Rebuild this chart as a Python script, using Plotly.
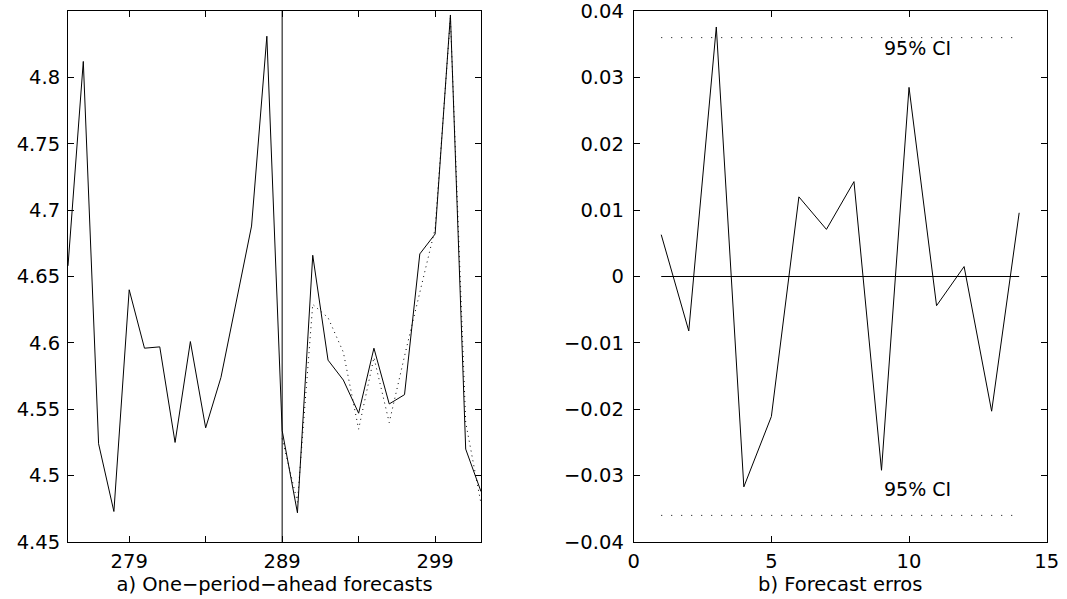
import plotly.graph_objects as go

# ---- Panel a data ----
periods = list(range(275, 303))
actual = [4.658, 4.812, 4.524, 4.473, 4.640, 4.596, 4.597, 4.525, 4.601, 4.536,
          4.574, 4.631, 4.688, 4.831, 4.534, 4.472, 4.666, 4.587, 4.572, 4.547,
          4.596, 4.554, 4.561, 4.667, 4.682, 4.847, 4.520, 4.488]
fc_periods = list(range(289, 303))
forecast = [4.528, 4.480, 4.629, 4.619, 4.593, 4.535, 4.589, 4.540, 4.590, 4.638,
            4.686, 4.845, 4.540, 4.479]
split_period = 289
a_yrange = [4.45, 4.85]
a_yticks = [4.45, 4.5, 4.55, 4.6, 4.65, 4.7, 4.75, 4.8]
a_yticktext = ["4.45", "4.5", "4.55", "4.6", "4.65", "4.7", "4.75", "4.8"]
a_xticks = [279, 284, 289, 294, 299]
a_xticktext = ["279", "", "289", "", "299"]

# ---- Panel b data ----
steps = list(range(1, 15))
errors = [0.0063, -0.0082, 0.0376, -0.0317, -0.0211, 0.0120, 0.0071, 0.0143,
          -0.0292, 0.0285, -0.0044, 0.0015, -0.0203, 0.0096]
ci_x = [1, 14]
ci_upper = [0.036, 0.036]
ci_lower = [-0.036, -0.036]
zero_line = [0, 0]
b_yticks = [-0.04, -0.03, -0.02, -0.01, 0, 0.01, 0.02, 0.03, 0.04]
b_yticktext = ["\u22120.04", "\u22120.03", "\u22120.02", "\u22120.01", "0",
               "0.01", "0.02", "0.03", "0.04"]
b_xticks = [0, 5, 10, 15]
ci_label = "95% CI"
ci_label_x = 10.3
ci_label_y = [0.0345, -0.0320]

FONT = "DejaVu Sans, Liberation Sans, Arial, sans-serif"
FS_TICK = 19.5
FS_TITLE = 19.5
FS_ANN = 19
BLACK = "black"

fig = go.Figure()

line = dict(color=BLACK, width=1)
dot = dict(color=BLACK, width=1, dash="1px,4px")
ci_dot = dict(color=BLACK, width=1, dash="1px,9px")

fig.add_trace(go.Scatter(x=periods, y=actual, mode="lines", line=line,
                         xaxis="x", yaxis="y", showlegend=False))
fig.add_trace(go.Scatter(x=fc_periods, y=forecast, mode="lines", line=dot,
                         xaxis="x", yaxis="y", showlegend=False))
fig.add_trace(go.Scatter(x=[split_period, split_period], y=a_yrange, mode="lines",
                         line=line, xaxis="x", yaxis="y", showlegend=False))

fig.add_trace(go.Scatter(x=steps, y=errors, mode="lines", line=line,
                         xaxis="x2", yaxis="y2", showlegend=False))
fig.add_trace(go.Scatter(x=ci_x, y=zero_line, mode="lines", line=line,
                         xaxis="x2", yaxis="y2", showlegend=False))
fig.add_trace(go.Scatter(x=ci_x, y=ci_upper, mode="lines", line=ci_dot,
                         xaxis="x2", yaxis="y2", showlegend=False))
fig.add_trace(go.Scatter(x=ci_x, y=ci_lower, mode="lines", line=ci_dot,
                         xaxis="x2", yaxis="y2", showlegend=False))

axis_common = dict(showline=True, linecolor=BLACK, linewidth=1, mirror="ticks",
                   ticks="inside", ticklen=6, tickcolor=BLACK, tickwidth=1,
                   showgrid=False, zeroline=False, automargin=False,
                   ticklabeloverflow="allow",
                   tickfont=dict(family=FONT, size=FS_TICK, color=BLACK))
title_font = dict(family=FONT, size=FS_TITLE, color=BLACK)

fig.update_layout(
    width=1067, height=599,
    margin=dict(l=0, r=0, t=11, b=57),
    paper_bgcolor="white", plot_bgcolor="white",
    font=dict(family=FONT, size=FS_TICK, color=BLACK),
    xaxis=dict(domain=[68 / 1067, 481 / 1067], range=[275, 302],
               tickmode="array", tickvals=a_xticks, ticktext=a_xticktext,
               ticklabelstandoff=2,
               title=dict(text="a) One\u2212period\u2212ahead forecasts", standoff=1,
                          font=title_font),
               anchor="y", **axis_common),
    yaxis=dict(domain=[0, 1], range=[a_yrange[0], a_yrange[1] + 1e-6], tickmode="array",
               tickvals=a_yticks, ticktext=a_yticktext, anchor="x",
               ticklabelstandoff=3, **axis_common),
    xaxis2=dict(domain=[633.7 / 1067, 1046.7 / 1067], range=[0, 15.0001],
                tickmode="array", tickvals=b_xticks, ticklabelstandoff=2,
                title=dict(text="b) Forecast erros", standoff=1, font=title_font),
                anchor="y2", **axis_common),
    yaxis2=dict(domain=[0, 1], range=[-0.04001, 0.04001], tickmode="array",
                tickvals=b_yticks, ticktext=b_yticktext, anchor="x2",
                ticklabelstandoff=5, **axis_common),
    annotations=[
        dict(x=ci_label_x, y=yv, xref="x2", yref="y2", text=ci_label, showarrow=False,
             font=dict(family=FONT, size=FS_ANN, color=BLACK))
        for yv in ci_label_y
    ],
)

fig.write_html(
    "out.html",
    config={"displayModeBar": False},
    post_script="document.body.style.margin='0';document.body.style.overflow='hidden';",
)
